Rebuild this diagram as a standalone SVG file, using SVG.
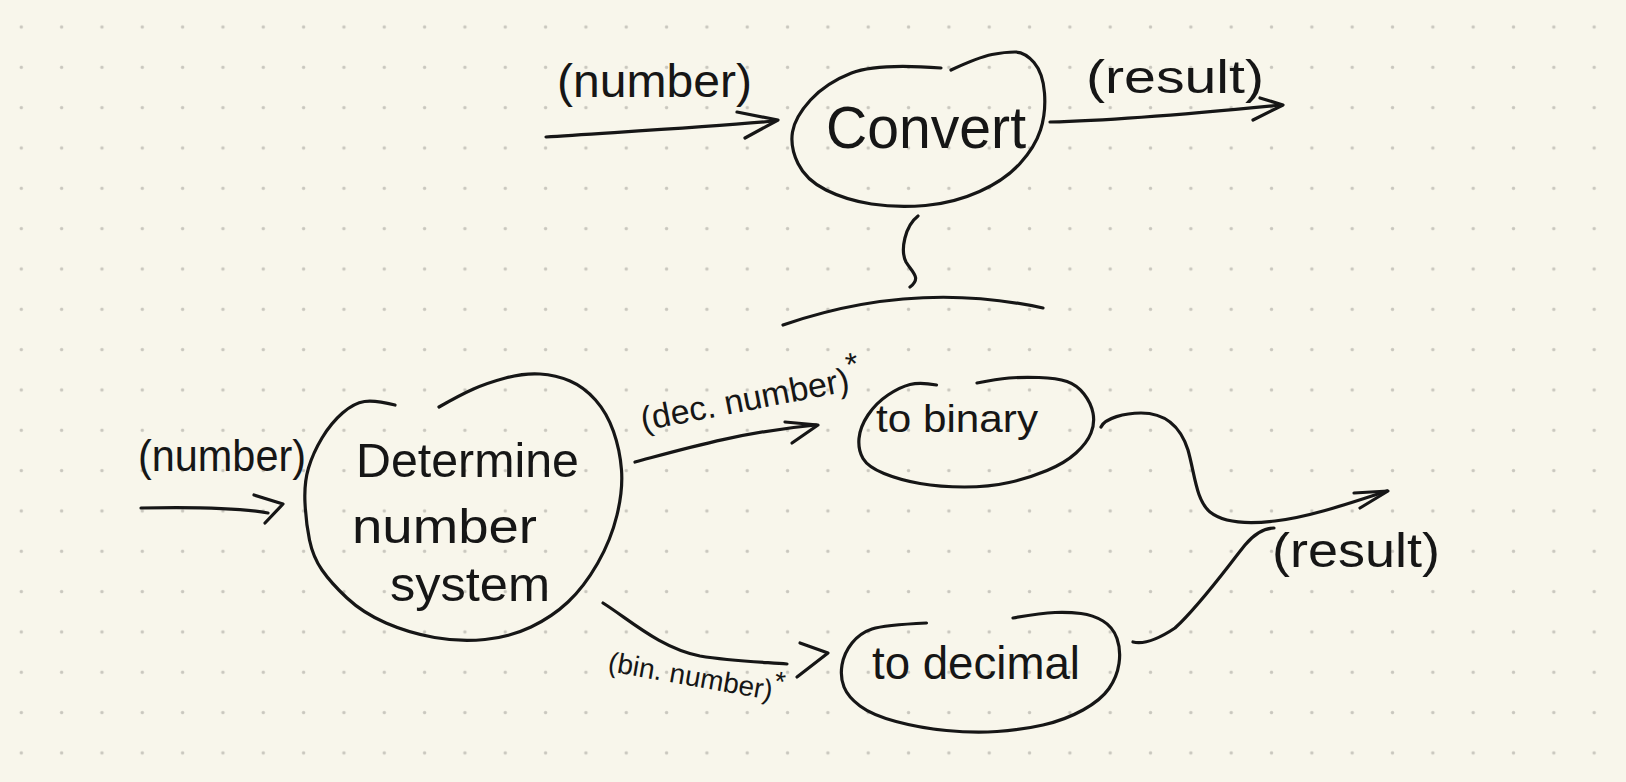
<svg xmlns="http://www.w3.org/2000/svg" width="1626" height="782" viewBox="0 0 1626 782">
  <defs>
    <pattern id="dots" x="1.135" y="6.835" width="40.33" height="40.33" patternUnits="userSpaceOnUse">
      <circle cx="20.165" cy="20.165" r="1.7" fill="#c9c7be"/>
    </pattern>
    <style>
      .ink { fill: none; stroke: #161616; stroke-width: 3.2; stroke-linecap: round; stroke-linejoin: round; }
      .txt { font-family: "Liberation Sans", Arial, sans-serif; fill: #161616; }
    </style>
  </defs>
  <rect width="1626" height="782" fill="#f8f6eb"/>
  <rect width="1626" height="782" fill="url(#dots)"/>

  <g id="node-convert">
    <path class="ink" d="M941,68 Q877,63 851.5,73 Q826,83 810.5,100 Q795,117 792.5,132 Q790,147 798,163.5 Q806,180 826,190 Q846,200 871.5,204 Q897,208 925.5,205.5 Q954,203 979.5,191.5 Q1005,180 1020,163.5 Q1035,147 1040.5,130 Q1046,113 1044.5,93 Q1043,73 1034,62.5 Q1025,52 1015,52 Q1005,52 992,54.5 Q979,57 951,70"/>
    <text class="txt" x="826" y="148" font-size="60" textLength="200" lengthAdjust="spacingAndGlyphs">Convert</text>
  </g>

  <g id="node-determine">
    <path class="ink" d="M395,405 Q375,400 364.5,401.5 Q354,403 342.5,413 Q331,423 322,438 Q313,453 308.5,468 Q304,483 305,503 Q306,523 309.5,540 Q313,557 322,570 Q331,583 347,598 Q363,613 386,623 Q409,633 434.5,637.5 Q460,642 485,639.5 Q510,637 531,627 Q552,617 568,602 Q584,587 597.5,563.5 Q611,540 617,515 Q623,490 621.5,470 Q620,450 613.5,431.5 Q607,413 595.5,400 Q584,387 570,381 Q556,375 540,374 Q524,373 505.5,378 Q487,383 473.5,389 Q460,395 439,407"/>
    <text class="txt" x="356" y="477" font-size="48" textLength="223" lengthAdjust="spacingAndGlyphs">Determine</text>
    <text class="txt" x="352" y="543" font-size="48" textLength="185" lengthAdjust="spacingAndGlyphs">number</text>
    <text class="txt" x="390" y="601" font-size="48" textLength="160" lengthAdjust="spacingAndGlyphs">system</text>
  </g>

  <g id="node-binary">
    <path class="ink" d="M936.5,385 Q920,382 910,384.5 Q900,387 888,395 Q876,403 868,415 Q860,427 859,438.5 Q858,450 863,458.5 Q868,467 884,473.5 Q900,480 920,483.5 Q940,487 964.5,487 Q989,487 1009,482.5 Q1029,478 1047,470.5 Q1065,463 1076,453 Q1087,443 1091,433 Q1095,423 1093,413 Q1091,403 1084,394 Q1077,385 1067,381.5 Q1057,378 1039,377.5 Q1021,377 1009,378 Q997,379 977,383"/>
    <text class="txt" x="876" y="432" font-size="38" textLength="162" lengthAdjust="spacingAndGlyphs">to binary</text>
  </g>

  <g id="node-decimal">
    <path class="ink" d="M926.5,623 Q884,625 872,629 Q860,633 852,643 Q844,653 842,665 Q840,677 844,687 Q848,697 860,706 Q872,715 896,721.5 Q920,728 946.5,730.5 Q973,733 997,731.5 Q1021,730 1043,725 Q1065,720 1083,710 Q1101,700 1109,688.5 Q1117,677 1119,663.5 Q1121,650 1117,638.5 Q1113,627 1103,621 Q1093,615 1081,613.5 Q1069,612 1055,612.5 Q1041,613 1013,618"/>
    <text class="txt" x="872" y="679" font-size="46" textLength="208" lengthAdjust="spacingAndGlyphs">to decimal</text>
  </g>

  <g id="connectors">
    <path class="ink" d="M546,137 C600,133 700,128 774,121"/>
    <path class="ink" d="M737,112 L778,120 L745,138"/>
    <path class="ink" d="M1050,122 C1100,121 1200,113 1281,105"/>
    <path class="ink" d="M1260,98 L1283,105 L1253,120"/>
    <path class="ink" d="M918,216 C905,226 900,250 906,262 C912,272 922,278 910,287"/>
    <path class="ink" d="M783,325 Q913,280 1043,308"/>
    <path class="ink" d="M141,508 C190,507 240,508 268,513"/>
    <path class="ink" d="M254,495 L283,504 L265,523"/>
    <path class="ink" d="M635,462 C680,450 740,432 816,425"/>
    <path class="ink" d="M785,422 L818,425 L792,443"/>
    <path class="ink" d="M603,603 C630,620 660,648 700,656 C730,661 760,662 787,664"/>
    <path class="ink" d="M800,643 L828,653 L797,677"/>
    <path class="ink" d="M1101,427 C1105,418 1125,413 1141,413 C1165,413 1180,425 1188,450 C1195,475 1196,500 1210,512 C1225,524 1250,524 1275,521 C1310,517 1350,503 1387,491"/>
    <path class="ink" d="M1354,493 L1388,491 L1360,508"/>
    <path class="ink" d="M1133,642 C1145,645 1160,638 1175,628 C1200,605 1225,570 1245,545 C1255,533 1265,528 1274,528"/>
  </g>

  <g id="labels">
    <text class="txt" x="557" y="97" font-size="46" textLength="195" lengthAdjust="spacingAndGlyphs">(number)</text>
    <text class="txt" x="1086" y="93" font-size="46" textLength="178" lengthAdjust="spacingAndGlyphs">(result)</text>
    <text class="txt" x="138" y="471" font-size="44" textLength="168" lengthAdjust="spacingAndGlyphs">(number)</text>
    <text class="txt" transform="translate(643,431) rotate(-11)" font-size="34">(dec. number)<tspan dy="-15" font-size="32">*</tspan></text>
    <text class="txt" transform="translate(607,671) rotate(10)" font-size="28">(bin. number)<tspan dy="-10" font-size="28">*</tspan></text>
    <text class="txt" x="1272" y="567" font-size="48" textLength="168" lengthAdjust="spacingAndGlyphs">(result)</text>
  </g>
</svg>
